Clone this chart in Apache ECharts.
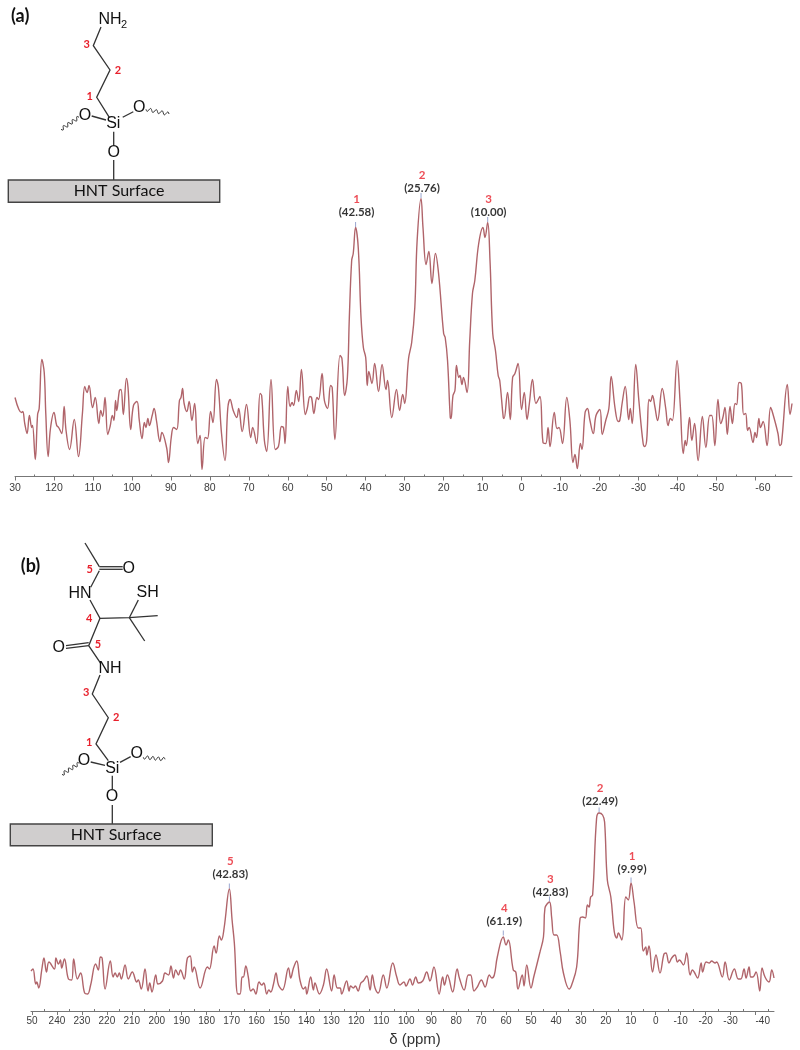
<!DOCTYPE html>
<html>
<head>
<meta charset="utf-8">
<title>NMR spectra</title>
<style>
  html, body { margin: 0; padding: 0; background: #fff; }
  #chart { width: 800px; height: 1050px; }
</style>
<script src="https://cdn.jsdelivr.net/npm/echarts@6/dist/echarts.min.js"></script>
</head>
<body>
<div id="chart"></div>
<script>
// spectrum (a): ppm and height above the axis
var ppmA = [130,129,128.3,128,127.5,126.9,126.3,125.7,125.5,124.8,124.2,123.8,123.1,122.5,122.1,121.5,120.9,120,119.3,118.8,
  118,117.4,116.9,116,114.8,113.7,112.7,112.1,111.5,111,110.1,109.4,108.5,108,107.5,106.9,106.2,105.6,105,104.6,
  104.2,103.9,103.2,102.8,102.2,101.4,101,100.3,99.6,98.7,98.1,97.4,96.8,96.4,95.9,95.5,94.8,94.3,93.7,92.8,
  92.3,91.1,90.6,89.9,89.3,88.5,87.8,87.4,87,86.6,85.9,85.3,84.6,83.9,83.1,82.5,82,81.2,80.6,79.8,
  79.2,78.3,77.8,77,76.1,75.4,74.8,74,73.1,72.6,71.7,70.6,69.5,69,68,67.1,66.7,66,65.4,64.3,
  63.2,62.4,61.6,61.1,60.7,60,59.4,58.9,58.5,57.8,57.2,56.5,55.5,55,54.3,53.9,53.3,52.5,52.1,51.2,
  50.6,49.8,49,48.6,47.9,46.6,46.1,45.4,44.7,44.2,43.6,43.2,42.6,41.9,41.2,40.6,40,39.6,39.2,38.4,
  37.7,36.7,35.8,34.8,34.4,33.3,32.1,31.3,30.5,30,29,28.2,27.4,26.8,25.8,25.3,24.5,23.8,23,22.1,
  21.3,20,19.6,19,18.3,18.1,17.6,17.1,16.7,16.1,15.8,15.3,14.9,14,13.3,12.6,12,11,9.9,9.4,
  8.7,8.1,7.4,6.7,6,5.6,4.7,4.5,3.6,2.9,2.3,1.7,0.9,0,-0.7,-1.4,-2,-2.8,-3.7,-4.7,
  -5.5,-6.2,-6.8,-7.3,-8.4,-9.1,-9.6,-10.5,-11.6,-12.4,-13.2,-13.7,-14.3,-15.1,-15.5,-16.3,-16.9,-17.5,-18.4,-19.1,
  -20.1,-20.7,-21.6,-22.4,-23,-24,-24.8,-25.2,-25.8,-26.6,-27.5,-27.9,-28.4,-29.3,-30.1,-31.2,-31.6,-32.1,-32.7,-33.1,
  -33.6,-34.2,-34.9,-36.1,-37,-37.6,-38.2,-38.7,-39.9,-40.7,-41.5,-42,-42.3,-43.1,-43.7,-44.4,-45.3,-46.4,-47.3,-48.3,
  -48.8,-49.6,-50.4,-51.1,-51.6,-52.2,-52.8,-53.5,-54.1,-54.8,-55.2,-55.8,-56.4,-57,-57.5,-58,-58.4,-59.4,-59.9,-60.3,
  -60.9,-61.3,-62,-63,-63.9,-64.4,-65.8,-66.3,-66.7,-68.2,-68.9,-69.4];
var intensityA = [79,67,64,65,53,43,61,49,51,17,62,68,117,104,63,20,48,64,51,49,
  43,70,46,27,57,20,63,90,84,91,69,79,53,66,60,79,42,50,61,56,
  76,66,86,87,62,98,89,47,71,75,56,38,54,49,58,51,61,68,56,35,
  44,29,14,39,49,47,76,79,88,73,65,75,56,73,33,41,7,39,38,65,
  54,97,89,43,16,68,77,66,59,68,45,72,39,49,33,83,81,36,25,97,
  27,30,50,49,33,90,70,74,71,86,75,107,62,68,80,79,63,79,77,103,
  76,68,91,89,37,121,118,81,99,159,216,223,249,228,159,129,119,91,105,93,
  113,85,112,87,96,59,87,66,82,73,118,134,169,236,278,249,212,225,193,223,
  203,143,139,116,59,58,81,86,111,99,101,92,99,84,136,183,196,233,249,239,
  254,216,143,126,101,96,59,58,84,57,99,103,113,67,84,57,73,97,73,80,
  34,33,49,30,64,48,49,33,79,56,14,22,8,33,27,64,68,57,43,61,
  67,42,56,68,100,68,55,56,73,90,57,68,53,112,76,33,30,36,77,75,
  81,70,56,88,68,51,58,56,116,73,23,36,31,59,36,53,16,60,29,61,
  61,31,77,53,58,69,42,70,53,73,72,94,93,62,63,46,49,34,44,39,
  58,49,55,31,69,64,43,31,33,92,62,73];

// spectrum (b)
var ppmB = [250.4,249.6,248.5,248.1,247.3,246.1,245.2,244.2,243.2,241,240.4,239.4,238.6,238.1,237,235.4,234.1,233.3,231.8,230.5,
  228.9,227.7,226.5,224.5,223.4,222.6,221.9,220.7,218.6,217.5,216.7,215.8,215,214.2,212.7,211.4,209.8,208,207.4,206.2,
  204.7,203.5,202.8,201.9,200.4,199.5,197.7,196.7,195.3,194.3,193.3,192.4,191.3,190.5,189,187.7,186.6,185.7,185,182.6,
  179.7,178.9,177,176.2,174.9,174.1,173,170.9,169.8,168.9,167.5,166.6,165.8,165.3,164.3,163.3,162.3,161.3,160.3,159,
  157.9,157.1,155.9,155.1,154.3,153.2,152.2,151.2,149.6,147.2,146.3,145.2,143.9,142.6,141.2,140.4,139.9,138.3,137.2,136.6,
  134.8,133.2,131.9,129.9,128.9,127.6,126.5,125.9,123.9,122.9,122.3,121.2,120.4,119.3,118.2,117.2,115.8,114.5,113.6,112.5,
  111.2,109.2,107.8,105.4,103.8,102.5,100.9,100.1,98.5,97.5,96.2,95.1,93.4,91.8,90.5,88.9,86.8,85.4,84.7,83.5,
  81.4,79.6,78.7,76.8,75.1,74.2,72.8,71.5,69.9,68.4,66.7,65.7,64.7,63.5,61.1,60,59.1,57.1,56.1,55.2,
  53.5,52.8,51.7,50,48.9,46.4,45,44.4,42.6,41.7,40.8,39.7,38.3,37,34.7,33.7,31.7,30.3,29.3,28.2,
  27.4,26.7,26.1,25.3,23.7,22.7,21.3,20.5,19.4,18,16.6,15.6,15,13.6,12,11,9.9,8.7,7,6,
  5,4,3.6,2.7,1.3,-0.1,-1.7,-3.3,-4.1,-5.3,-6.4,-7.7,-8.7,-9.5,-11.1,-12.4,-13.8,-14.7,-15.4,-16.8,
  -18.2,-18.8,-20.2,-21.5,-22.4,-23.8,-24.4,-26.7,-27.8,-29.5,-31.5,-33.1,-34.1,-35.4,-36.2,-37.4,-38.1,-38.9,-40.2,-41.7,
  -42.6,-43.8,-45.4,-46.5,-47.4];
var intensityB = [40,42,27,29,23,41,53,39,49,42,53,47,51,43,52,32,31,52,32,38,
  18,17,26,47,41,54,53,22,50,34,38,34,38,32,46,32,39,29,31,22,
  42,20,28,19,36,27,30,38,36,45,33,41,36,41,32,53,55,39,44,23,
  44,42,65,58,75,71,83,122,91,68,17,17,34,34,45,34,20,22,17,29,
  26,28,17,21,19,27,38,26,21,43,33,43,50,31,22,24,17,34,21,28,
  17,26,42,20,36,23,23,17,30,20,25,23,25,20,28,30,35,21,36,23,
  18,36,23,48,34,26,29,25,32,26,34,28,30,39,30,44,17,34,26,36,
  19,42,33,21,36,36,20,24,31,24,36,33,36,54,74,66,71,41,39,22,
  36,25,46,23,34,59,74,103,109,93,76,76,59,38,22,26,44,93,94,93,
  106,104,114,116,193,198,196,189,131,114,79,73,78,71,114,111,128,109,83,83,
  60,64,56,65,39,56,38,57,58,48,53,56,49,51,46,58,36,41,39,33,
  48,39,49,48,50,48,49,34,49,31,42,32,32,42,33,44,34,34,39,20,
  43,34,29,41,33];

// picked peaks: position, height, red number, printed shift
var peakPpmA = [42.6, 25.8, 8.7];
var peakHeightA = [249, 278, 254];
var peakNumA = ['1', '2', '3'];
var peakTextA = ['(42.58)', '(25.76)', '(10.00)'];
var peakPpmB = [170.9, 61.1, 42.6, 22.7, 9.9];
var peakHeightB = [122, 75, 109, 198, 128];
var peakNumB = ['5', '4', '3', '2', '1'];
var peakTextB = ['(42.83)', '(61.19)', '(42.83)', '(22.49)', '(9.99)'];

// axis ticks, the first label of each axis is cut off in the picture
var tickValuesA = [130,120,110,100,90,80,70,60,50,40,30,20,10,0,-10,-20,-30,-40,-50,-60];
var tickLabelsA = ['30','120','110','100','90','80','70','60','50','40','30','20','10','0','-10','-20','-30','-40','-50','-60'];
var minorValuesA = [125,115,105,95,85,75,65,55,45,35,25,15,5,-5,-15,-25,-35,-45,-55,-65];
var tickValuesB = [250,240,230,220,210,200,190,180,170,160,150,140,130,120,110,100,90,80,70,60,50,40,30,20,10,0,-10,-20,-30,-40];
var tickLabelsB = ['50','240','230','220','210','200','190','180','170','160','150','140','130','120','110','100','90','80','70','60','50','40','30','20','10','0','-10','-20','-30','-40'];
var minorValuesB = [245,235,225,215,205,195,185,175,165,155,145,135,125,115,105,95,85,75,65,55,45,35,25,15,5,-5,-15,-25,-35,-45];

var lineColor = '#b0646a';
var axisColor = '#777';
var labelFont = 'Lato, "Open Sans", sans-serif';
var molFont = '"Liberation Sans", Arial, sans-serif';
var red = '#e8202c';
// vertical nudge of each peak label
var labelShiftA = [-3, 2, 2];
var labelShiftB = [-3, -3, 2, 0, -2];

function majorAxis(index, min, max, ticks, labels, size, margin, extra) {
  var axis = {
    type: 'value', gridIndex: index, inverse: true, min: min, max: max,
    axisLine: { show: true, onZero: false, lineStyle: { color: axisColor, width: 1 } },
    axisTick: { show: true, length: 4, customValues: ticks, lineStyle: { color: axisColor } },
    splitLine: { show: false },
    axisLabel: {
      customValues: ticks, color: '#3c3c3c', fontFamily: molFont, fontSize: size, margin: margin,
      alignMaxLabel: 'left', showMinLabel: true, showMaxLabel: true,
      formatter: function (v) { return labels[ticks.indexOf(v)]; }
    }
  };
  return Object.assign(axis, extra || {});
}

function minorAxis(index, min, max, ticks) {
  return {
    type: 'value', gridIndex: index, inverse: true, min: min, max: max,
    axisLine: { show: false },
    axisTick: { show: true, length: 2, customValues: ticks, lineStyle: { color: axisColor } },
    axisLabel: { show: false },
    splitLine: { show: false }
  };
}

function spectrum(index, ppm, values) {
  return {
    type: 'line', xAxisIndex: index, yAxisIndex: index,
    data: ppm.map(function (p, i) { return [p, values[i]]; }),
    showSymbol: false, smooth: 0.4,
    lineStyle: { color: lineColor, width: 1.4 }, silent: true
  };
}

function peaks(index, ppm, heights, nums, texts, shifts) {
  return {
    type: 'scatter', xAxisIndex: index, yAxisIndex: index,
    symbol: 'rect', symbolSize: [1, 5], symbolOffset: [0, -3],
    itemStyle: { color: '#8090c4' },
    data: ppm.map(function (p, i) {
      return {
        value: [p, heights[i]],
        label: {
          show: true, position: 'top', distance: 0, offset: [1, shifts[i]],
          formatter: '{n|' + nums[i] + '}\n{t|' + texts[i] + '}',
          rich: {
            n: { color: red, fontFamily: labelFont, fontWeight: 'bold', fontSize: 11.5, lineHeight: 13, align: 'center' },
            t: { color: '#000', fontFamily: labelFont, fontWeight: 'bold', fontSize: 11.5, lineHeight: 13, align: 'center' }
          }
        }
      };
    })
  };
}

// molecule sketches next to the spectra
var drawing = [];
function bond(points, width) {
  drawing.push({ type: 'polyline', silent: true, shape: { points: points },
    style: { stroke: '#333', lineWidth: width || 1.3, fill: null } });
}
function atom(text, x, y, size) {
  drawing.push({ type: 'text', silent: true, x: x, y: y,
    style: { text: text, fill: '#111', font: (size || 16) + 'px ' + molFont, textAlign: 'center', textVerticalAlign: 'middle' } });
}
function num(text, x, y) {
  drawing.push({ type: 'text', silent: true, x: x, y: y,
    style: { text: text, fill: red, font: 'bold 11px ' + labelFont, textAlign: 'center', textVerticalAlign: 'middle' } });
}
function panelTag(text, x, y) {
  drawing.push({ type: 'text', silent: true, x: x, y: y,
    style: { text: text, fill: '#111', font: 'bold 18px ' + labelFont, textAlign: 'left', textVerticalAlign: 'middle' } });
}
function surface(x0, y0, x1, y1, textX) {
  drawing.push({ type: 'rect', silent: true, shape: { x: x0, y: y0, width: x1 - x0, height: y1 - y0 },
    style: { fill: '#d0cece', stroke: '#444', lineWidth: 1.4 } });
  drawing.push({ type: 'text', silent: true, x: textX, y: (y0 + y1) / 2,
    style: { text: 'HNT Surface', fill: '#111', font: '16px ' + labelFont, textAlign: 'center', textVerticalAlign: 'middle' } });
}
function wave(x0, y0, x1, y1) {
  var pts = [], dx = x1 - x0, dy = y1 - y0, len = Math.sqrt(dx * dx + dy * dy);
  for (var i = 0; i <= 40; i++) {
    var t = i / 40, off = 1.8 * Math.sin(t * Math.PI * 8);
    pts.push([x0 + dx * t - dy / len * off, y0 + dy * t + dx / len * off]);
  }
  bond(pts, 1);
}

// (a)
panelTag('(a)', 11, 16);
atom('NH', 110, 20);
atom('2', 124, 25, 11);
bond([[101, 27], [93.3, 45.7], [110, 70], [96.7, 97.3], [109.3, 117.3]]);
num('3', 86.7, 44); num('2', 118, 70); num('1', 89.7, 96);
atom('Si', 113.3, 123.3); atom('O', 85, 115.5); atom('O', 139.3, 107.5); atom('O', 113.7, 152.3);
bond([[91.7, 116], [106, 120]]);
bond([[122.7, 117.3], [133.3, 111.7]]);
bond([[113.7, 131.7], [113.7, 145]]);
bond([[113.7, 160], [113.7, 180]]);
wave(61, 129.3, 79, 117.3);
wave(146, 109.3, 169, 114);
surface(8.3, 180, 219.7, 202.3, 119);

// (b)
panelTag('(b)', 20.7, 565.7);
bond([[85, 543], [99.3, 566.7]]);
bond([[99.3, 566.7], [122.7, 566.7]]);
bond([[99.3, 569.3], [122.7, 569.3]]);
atom('O', 128.7, 568.7);
num('5', 89.7, 569);
bond([[99.3, 570.7], [90.7, 587.3]]);
atom('HN', 80, 593.3);
bond([[90, 600], [100, 618.3], [129.3, 617.7], [157.7, 615.7]]);
num('4', 89.3, 618.3);
bond([[129.3, 617.7], [138.3, 600]]);
atom('SH', 147.7, 592.3);
bond([[129.3, 617.7], [144.7, 641]]);
bond([[100, 618.3], [88.7, 645.7], [100.7, 663.3]]);
bond([[66, 645.7], [88.7, 642.7]]);
bond([[66, 648.3], [88.7, 645.7]]);
atom('O', 58.7, 647.3);
num('5', 98, 644.3);
atom('NH', 110, 669);
bond([[100, 675], [92.3, 694], [108.3, 717.7], [96, 744], [108.3, 760.7]]);
num('3', 86.3, 692); num('2', 116.3, 717.3); num('1', 89.3, 742);
atom('Si', 112.3, 768.3); atom('O', 84, 760.7); atom('O', 136.7, 753.3); atom('O', 112, 797);
bond([[90.7, 762], [105, 765.3]]);
bond([[120, 762.3], [130.7, 756.7]]);
bond([[112.3, 775.7], [112.3, 790]]);
bond([[112.3, 805], [112.3, 824]]);
wave(62, 774.3, 79.3, 763.3);
wave(143.3, 757.3, 165, 759.3);
surface(10.3, 824, 212.3, 845.7, 116);

var chart = echarts.init(document.getElementById('chart'), null, { renderer: 'canvas' });
chart.setOption({
  animation: false,
  backgroundColor: '#fff',
  grid: [
    { left: 15, top: 176.5, width: 777, height: 300 },
    { left: 31, top: 711, width: 743, height: 300 }
  ],
  xAxis: [
    majorAxis(0, -69.4, 130, tickValuesA, tickLabelsA, 10.5, 6),
    majorAxis(1, -47.4, 250.4, tickValuesB, tickLabelsB, 10, 5, {
      name: 'δ (ppm)', nameLocation: 'middle', nameGap: 21,
      nameTextStyle: { color: '#333', fontFamily: molFont, fontSize: 15, padding: [0, 0, 0, 25] }
    }),
    minorAxis(0, -69.4, 130, minorValuesA),
    minorAxis(1, -47.4, 250.4, minorValuesB)
  ],
  yAxis: [
    { type: 'value', gridIndex: 0, min: 0, max: 300, show: false },
    { type: 'value', gridIndex: 1, min: 0, max: 300, show: false }
  ],
  series: [
    spectrum(0, ppmA, intensityA),
    spectrum(1, ppmB, intensityB),
    peaks(0, peakPpmA, peakHeightA, peakNumA, peakTextA, labelShiftA),
    peaks(1, peakPpmB, peakHeightB, peakNumB, peakTextB, labelShiftB)
  ],
  graphic: drawing
});
</script>
</body>
</html>
